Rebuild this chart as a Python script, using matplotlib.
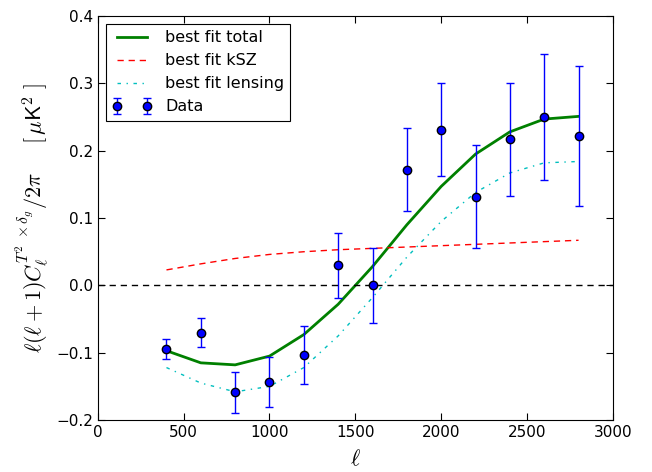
import matplotlib
matplotlib.use("Agg")
import matplotlib.pyplot as plt
import numpy as np

ell = [400, 600, 800, 1000, 1200, 1400, 1600, 1800, 2000, 2200, 2400, 2600, 2800]
data = [-0.094, -0.070, -0.159, -0.143, -0.103, 0.030, 0.000, 0.172, 0.231, 0.132, 0.217, 0.250, 0.222]
err = [0.015, 0.022, 0.030, 0.037, 0.043, 0.048, 0.056, 0.062, 0.069, 0.076, 0.084, 0.094, 0.104]
total = [-0.097, -0.115, -0.118, -0.105, -0.073, -0.028, 0.028, 0.090, 0.147, 0.195, 0.228, 0.247, 0.251]
ksz = [0.023, 0.032, 0.040, 0.046, 0.050, 0.053, 0.055, 0.057, 0.059, 0.061, 0.063, 0.065, 0.067]
lensing = [-0.122, -0.145, -0.158, -0.150, -0.122, -0.075, -0.018, 0.042, 0.095, 0.138, 0.167, 0.182, 0.184]

plt.rcParams['mathtext.fontset'] = 'cm'
plt.rcParams['xtick.direction'] = 'in'
plt.rcParams['ytick.direction'] = 'in'
plt.rcParams['xtick.top'] = True
plt.rcParams['ytick.right'] = True
plt.rcParams['xtick.major.size'] = 5
plt.rcParams['ytick.major.size'] = 5

fig = plt.figure(figsize=(6.52, 4.72), dpi=100)
ax = fig.add_axes([0.150, 0.110, 0.790, 0.856])

ax.plot(ell, total, color='green', lw=2, label='best fit total')
ax.plot(ell, ksz, color='red', lw=1, dashes=(4.5, 3.5), label='best fit kSZ')
ax.plot(ell, lensing, color='c', lw=1, dashes=(2.5, 4, 1, 4), label='best fit lensing')
ax.errorbar(ell, data, yerr=err, fmt='o', color='b', mfc='b', mec='k', ms=6,
            ecolor='b', capsize=3, elinewidth=1, label='Data')
ax.axhline(0, color='k', ls='--', lw=1, dashes=(4.5, 3.5))

ax.set_xlim(0, 3000)
ax.set_ylim(-0.2, 0.4)
ax.set_xticks(np.arange(0, 3001, 500))
ax.set_yticks(np.arange(-0.2, 0.41, 0.1))
ax.tick_params(labelsize=11)
ax.set_xlabel(r'$\ell$', fontsize=16, labelpad=6)
ax.set_ylabel(r'$\ell(\ell+1)C_{\ell}^{T^{2}\ \times\delta_g}/2\pi\quad\;\;[\,\mu\mathsf{K}^2\ ]$',
              fontsize=16, labelpad=4)

leg = ax.legend(loc='upper left', fancybox=False, framealpha=1, edgecolor='k', fontsize=11.5,
                numpoints=2, handlelength=2.5)
leg.get_frame().set_linewidth(0.8)

fig.savefig('out.png', dpi=100)
